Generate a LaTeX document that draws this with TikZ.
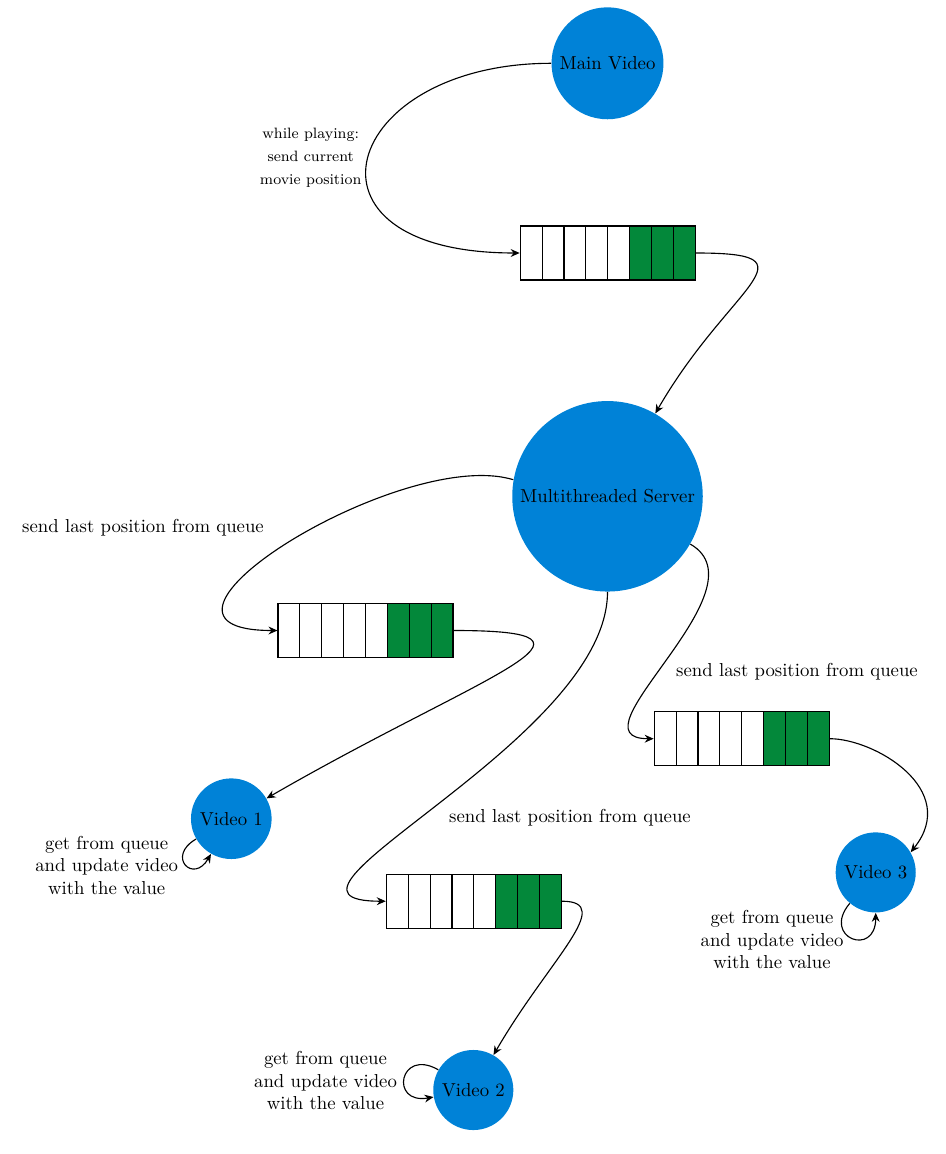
\documentclass[tikz,border=0pt]{standalone}
\usetikzlibrary{calc,arrows.meta}
\definecolor{nodeblue}{RGB}{0,130,215}
\definecolor{qgreen}{RGB}{3,136,58}
\tikzset{
  bignode/.style={circle, fill=nodeblue, inner sep=0pt, text=black},
  queue/.style={draw, line width=0.6pt, minimum width=93.3pt, minimum height=28.8pt, inner sep=0pt,
    path picture={
      \fill[qgreen] ($(path picture bounding box.south west)!0.625!(path picture bounding box.south east)$) rectangle (path picture bounding box.north east);
      \foreach \i in {1,...,7}
        \draw[line width=0.6pt] ($(path picture bounding box.south west)!\i/8!(path picture bounding box.south east)$) -- ($(path picture bounding box.north west)!\i/8!(path picture bounding box.north east)$);
    }},
  conn/.style={line width=0.6pt, -{Stealth[length=4.8pt,width=4.2pt,inset=1.6pt]}},
  lbl/.style={align=center, inner sep=0pt}
}
\begin{document}
\begin{tikzpicture}[x=0.5333pt, y=-0.5333pt]
\useasboundingbox (0,0) rectangle (945,1154);

\node[bignode, minimum size=59.7pt] (mv) at (607.5,63.3) {Main Video};
\node[queue] (q1) at (607.7,253) {};
\node[bignode, minimum size=101.6pt] (srv) at (607.5,496.3) {Multithreaded Server};
\node[queue] (q2) at (365.5,630.5) {};
\node[queue] (q3) at (741.7,738.7) {};
\node[queue] (q4) at (473.8,901.2) {};
\node[bignode, minimum size=43pt] (v1) at (231.3,818.7) {Video 1};
\node[bignode, minimum size=42.7pt] (v2) at (473.3,1090) {Video 2};
\node[bignode, minimum size=42.7pt] (v3) at (875.7,872.4) {Video 3};

\node[lbl, font=\footnotesize] (lwp) at (310.7,158) {while playing:\\[2.8pt] send current\\[2.8pt] movie position};
\node[lbl] (ls1) at (143,528) {send last position from queue};
\node[lbl] (ls2) at (797,671.7) {send last position from queue};
\node[lbl] (ls3) at (570,817.3) {send last position from queue};
\node[lbl] (lv1) at (106.7,865) {get from queue\\and update video\\with the value};
\node[lbl] (lv2) at (325.5,1080.5) {get from queue\\and update video\\with the value};
\node[lbl] (lv3) at (772,939.5) {get from queue\\and update video\\with the value};

\draw[conn] (mv.west) .. controls +(-210,0) and +(-236,0) .. (q1.west);
\draw[conn] (q1.east) .. controls +(125,0) and +(75,-130) .. (srv.60);
\draw[conn] (srv.170) .. controls +(-112.5,-34) and +(-172,0) .. (q2.west);
\draw[conn] (q2.east) .. controls +(180,0) and +(216.5,-125) .. (v1.30);
\draw[conn] (srv.south) .. controls +(0,150) and +(-150,0) .. (q4.west);
\draw[conn] (q4.east) .. controls +(55,0) and +(55,-95) .. (v2.60);
\draw[conn] (srv.-30) .. controls +(78,45) and +(-88,0) .. (q3.west);
\draw[conn] (q3.east) .. controls +(45,0) and +(50,-62.6) .. (v3.30);

\draw[conn] (v1.210) .. controls +(-30.3,17.5) and +(-17.5,30.3) .. (v1.240);
\draw[conn] (v2.150) .. controls +(-39,-22.5) and +(-44.3,7.8) .. (v2.190);
\draw[conn] (v3.230) .. controls +(-28.9,34.5) and +(0,45) .. (v3.270);
\end{tikzpicture}
\end{document}
